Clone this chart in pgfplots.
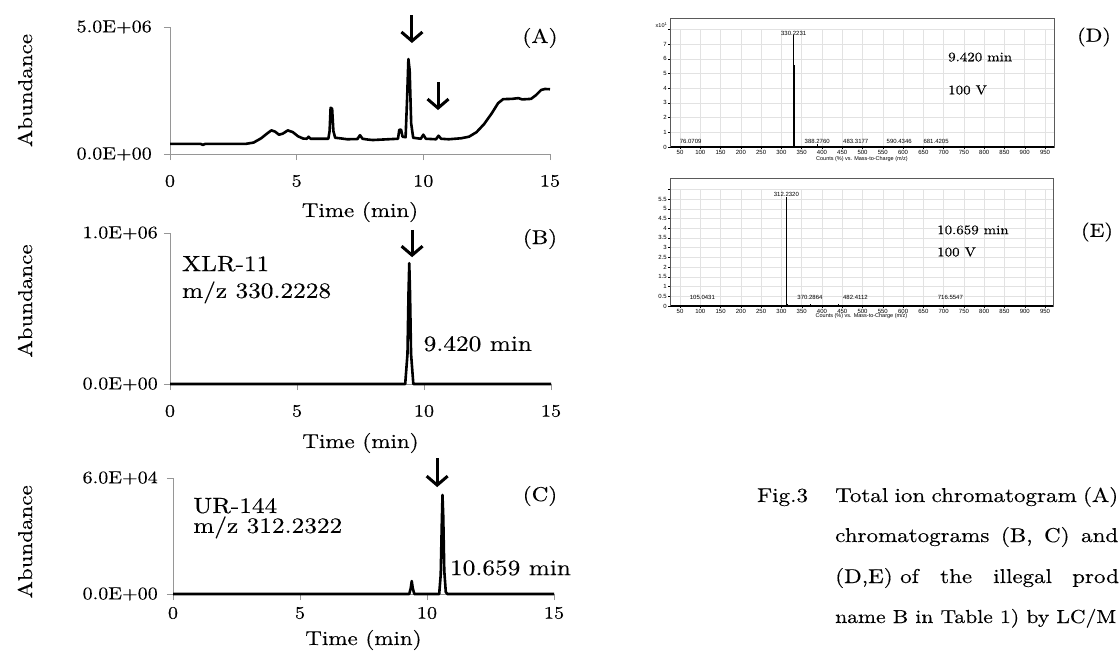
\documentclass[border=0pt]{standalone}
\usepackage{fontspec}
\setmainfont{lmroman10-regular.otf}[FakeStretch=1.15, FakeBold=0.3]
\newfontfamily\msfont{Liberation Sans}
\usepackage{pgfplots}
\pgfplotsset{compat=1.18}
\usetikzlibrary{arrows.meta}

\definecolor{axgray}{RGB}{150,150,150}
\definecolor{gridgray}{RGB}{226,226,226}
\definecolor{framegray}{RGB}{90,90,90}
\newcommand{\fs}[1]{\fontsize{#1}{#1}\selectfont}

\tikzset{
  marker/.style={line width=3pt, -{Straight Barb[length=9pt,width=21pt]}},
  pklab/.style={font=\msfont\fs{6}, anchor=south, inner sep=0pt},
  captext/.style={anchor=base west, inner sep=0pt, font=\fs{20}},
}

\pgfplotsset{
  chrom/.style={
    scale only axis,
    axis lines=left,
    axis line style={axgray, line width=0.9pt, -},
    tick style={axgray, line width=0.9pt},
    tick align=outside,
    major tick length=6pt,
    xmin=0, xmax=15, xtick={0,5,10,15},
    scaled y ticks=false,
    clip=false,
    /pgf/number format/assume math mode=true,
    tick label style={font=\fs{17.5}, text=black},
    xlabel={Time (min)},
    ylabel={Abundance},
    label style={font=\fs{20}},
  },
  trace/.style={black, line width=2.6pt, line join=round, mark=none},
  msspec/.style={
    scale only axis,
    xmin=25.3, xmax=972.2,
    ymin=0,
    axis x line*=bottom, axis y line*=left,
    x axis line style={black, line width=1.4pt, -},
    y axis line style={framegray, line width=0.6pt, -},
    grid=major, major grid style={gridgray, line width=0.5pt},
    xtick={50,100,...,950},
    tick align=outside, major tick length=2pt,
    tick style={black, line width=0.4pt},
    tick label style={font=\msfont\fs{6}, inner sep=1pt},
    /pgf/number format/assume math mode=true,
    xlabel={Counts (\%) vs. Mass-to-Charge (m/z)},
    xlabel style={font=\msfont\fs{5.5}, at={(axis description cs:0.5,0)}, anchor=center},
    clip=false,
  },
  stick/.style={ycomb, black, line width=0.7pt, mark=none},
}

\begin{document}
\begin{tikzpicture}
\useasboundingbox (0pt,0pt) rectangle (1119pt,-658pt);

% (A) total ion chromatogram
\begin{axis}[chrom, at={(170pt,-154pt)}, anchor=south west,
  width=380pt, height=127pt,
  ymin=0, ymax=5e6, ytick={0,5e6}, yticklabels={0.0E+00,5.0E+06},
  yticklabel style={anchor=east, inner sep=0pt, xshift=-12pt},
  xticklabel style={anchor=center, inner sep=0pt, yshift=-21pt},
  xlabel style={at={(axis description cs:0.5,0)}, anchor=center, yshift=-58pt},
  ylabel style={at={(axis description cs:-0.3816,0.5)}, anchor=center}]
\addplot[trace] coordinates {
(0,0.40e6)(1.2,0.40e6)(1.3,0.36e6)(1.4,0.40e6)(3.0,0.40e6)(3.3,0.45e6)
(3.6,0.62e6)(3.85,0.82e6)(4.0,0.93e6)(4.15,0.88e6)(4.3,0.76e6)(4.45,0.80e6)
(4.65,0.93e6)(4.85,0.86e6)(5.05,0.70e6)(5.25,0.61e6)(5.4,0.60e6)(5.47,0.68e6)
(5.55,0.60e6)(6.25,0.60e6)(6.3,0.9e6)(6.34,1.82e6)(6.4,1.78e6)(6.45,0.9e6)
(6.52,0.64e6)(6.7,0.62e6)(7.0,0.58e6)(7.4,0.59e6)(7.5,0.74e6)(7.6,0.60e6)
(7.8,0.57e6)(8.0,0.55e6)(8.6,0.58e6)(9.0,0.60e6)(9.05,0.95e6)(9.12,0.96e6)
(9.18,0.68e6)(9.3,0.66e6)(9.36,2.2e6)(9.41,3.74e6)(9.46,3.3e6)(9.52,1.2e6)
(9.6,0.64e6)(9.9,0.60e6)(10.0,0.76e6)(10.1,0.60e6)(10.5,0.58e6)(10.6,0.72e6)
(10.7,0.60e6)(11.0,0.58e6)(11.5,0.62e6)(11.8,0.68e6)(12.1,0.86e6)(12.4,1.18e6)
(12.7,1.6e6)(12.95,2.0e6)(13.15,2.16e6)(13.5,2.17e6)(13.75,2.20e6)(13.9,2.15e6)
(14.25,2.17e6)(14.45,2.32e6)(14.65,2.52e6)(14.8,2.56e6)(15.0,2.55e6)};
\draw[marker] (axis cs:9.55,5.47e6) -- (axis cs:9.55,4.37e6);
\draw[marker] (axis cs:10.58,2.83e6) -- (axis cs:10.58,1.73e6);
\end{axis}

% (B) extracted ion chromatogram, XLR-11
\begin{axis}[chrom, at={(170pt,-384pt)}, anchor=south west,
  width=381pt, height=151pt,
  ymin=0, ymax=1e6, ytick={0,1e6}, yticklabels={0.0E+00,1.0E+06},
  yticklabel style={anchor=east, inner sep=0pt, xshift=-6pt},
  xticklabel style={anchor=center, inner sep=0pt, yshift=-21pt},
  xlabel style={at={(axis description cs:0.5,0)}, anchor=center, yshift=-59pt},
  ylabel style={at={(axis description cs:-0.3806,0.55)}, anchor=center}]
\addplot[trace] coordinates {
(0,0)(9.26,0)(9.35,0.2e6)(9.39,0.6e6)(9.42,0.80e6)(9.45,0.6e6)(9.49,0.2e6)
(9.58,0)(15,0)};
\draw[marker] (axis cs:9.53,1.02e6) -- (axis cs:9.53,0.84e6);
\node[anchor=base west, inner sep=0pt, font=\fs{22}] at (axis cs:0.47,0.748e6) {XLR-11};
\node[anchor=base west, inner sep=0pt, font=\fs{22}] at (axis cs:0.47,0.57e6) {m/z 330.2228};
\node[anchor=base west, inner sep=0pt, font=\fs{22}] at (axis cs:9.98,0.219e6) {9.420 min};
\end{axis}

% (C) extracted ion chromatogram, UR-144
\begin{axis}[chrom, at={(173pt,-594pt)}, anchor=south west,
  width=381pt, height=116pt,
  ymin=0, ymax=6e4, ytick={0,6e4}, yticklabels={0.0E+00,6.0E+04},
  yticklabel style={anchor=east, inner sep=0pt, xshift=-9pt},
  xticklabel style={anchor=center, inner sep=0pt, yshift=-13pt},
  xlabel style={at={(axis description cs:0.5,0)}, anchor=center, yshift=-46pt},
  ylabel style={at={(axis description cs:-0.3885,0.45)}, anchor=center}]
\addplot[trace] coordinates {
(0,0)(9.3,0)(9.36,0.3e4)(9.4,0.67e4)(9.44,0.3e4)(9.5,0)(10.48,0)(10.54,1.0e4)
(10.58,3.5e4)(10.61,5.12e4)(10.64,4.0e4)(10.68,1.2e4)(10.74,0.1e4)(10.8,0)(15,0)};
\draw[marker] (axis cs:10.4,7.03e4) -- (axis cs:10.4,5.53e4);
\node[anchor=base west, inner sep=0pt, font=\fs{22}] at (axis cs:0.79,4.19e4) {UR-144};
\node[anchor=base west, inner sep=0pt, font=\fs{22}] at (axis cs:0.79,3.16e4) {m/z 312.2322};
\node[anchor=base west, inner sep=0pt, font=\fs{22}] at (axis cs:10.9,0.98e4) {10.659 min};
\end{axis}

% (D) mass spectrum at 9.420 min
\draw[framegray, line width=0.6pt] (670pt,-18pt) rectangle (1054pt,-147pt);
\begin{axis}[msspec, at={(670pt,-147pt)}, anchor=south west,
  width=384pt, height=117.6pt,
  ymax=8, ytick={0,...,8}, yticklabels={0,1,2,3,4,5,6,7,{}},
  xlabel style={yshift=-12pt}]
\addplot[stick] coordinates {(76.07,0.08) (330.22,7.6) (331.2,5.6) (332.2,0.3)
  (388.28,0.2) (483.32,0.1) (590.43,0.08) (681.42,0.08)};
\node[pklab] at (axis cs:76.07,0.21) {76.0709};
\node[pklab] at (axis cs:330.22,7.6) {330.2231};
\node[pklab] at (axis cs:388.28,0.21) {388.2760};
\node[pklab] at (axis cs:483.32,0.21) {483.3177};
\node[pklab] at (axis cs:590.43,0.21) {590.4346};
\node[pklab] at (axis cs:681.42,0.21) {681.4205};
\end{axis}
\node[font=\msfont\fs{5.5}, anchor=east, inner sep=0pt] at (667pt,-25pt) {x10\raisebox{2pt}{\fs{4}1}};
\node[anchor=west, inner sep=0pt, font=\fs{13}] at (948pt,-57pt) {9.420 min};
\node[anchor=west, inner sep=0pt, font=\fs{13}] at (948pt,-90pt) {100 V};

% (E) mass spectrum at 10.659 min
\draw[framegray, line width=0.6pt] (670pt,-178pt) rectangle (1053pt,-306pt);
\begin{axis}[msspec, at={(670pt,-306pt)}, anchor=south west,
  xmax=969.6, width=383pt, height=116.7pt,
  ymax=6, ytick={0,0.5,...,6},
  yticklabels={0,0.5,1,1.5,2,2.5,3,3.5,4,4.5,5,5.5,{}},
  xlabel style={yshift=-10pt}]
\addplot[stick] coordinates {(105.04,0.05) (250,0.05) (270,0.05) (312.23,5.6)
  (313.23,1.05) (315,0.12) (370.29,0.08) (440,0.1) (482.41,0.05) (716.55,0.04)};
\node[pklab] at (axis cs:105.04,0.3) {105.0431};
\node[pklab] at (axis cs:312.23,5.6) {312.2320};
\node[pklab] at (axis cs:370.29,0.3) {370.2864};
\node[pklab] at (axis cs:482.41,0.3) {482.4112};
\node[pklab] at (axis cs:716.55,0.3) {716.5547};
\end{axis}
\node[anchor=west, inner sep=0pt, font=\fs{13}] at (937pt,-230pt) {10.659 min};
\node[anchor=west, inner sep=0pt, font=\fs{13}] at (937pt,-252pt) {100 V};

% panel letters
\node[font=\fs{20}] at (540pt,-38pt) {(A)};
\node[font=\fs{20}] at (540pt,-239pt) {(B)};
\node[font=\fs{20}] at (540pt,-496pt) {(C)};
\node[font=\fs{19}] at (1094pt,-37pt) {(D)};
\node[font=\fs{19}] at (1097pt,-232pt) {(E)};

% caption
\node[captext] at (757pt,-502pt) {Fig.3};
\node[captext] at (835pt,-502pt) {\makebox[283pt][s]{Total ion chromatogram (A)}};
\node[captext] at (835pt,-542pt) {\makebox[283pt][s]{chromatograms (B, C) and}};
\node[captext] at (835pt,-583pt) {(D,E)};
\node[captext] at (900pt,-583pt) {of};
\node[captext] at (940pt,-583pt) {the};
\node[captext] at (993pt,-583pt) {illegal};
\node[captext] at (1072pt,-583pt) {prod};
\node[captext, font=\fs{18.8}] at (835pt,-623pt) {name B in Table 1) by LC/M};
\end{tikzpicture}
\end{document}
